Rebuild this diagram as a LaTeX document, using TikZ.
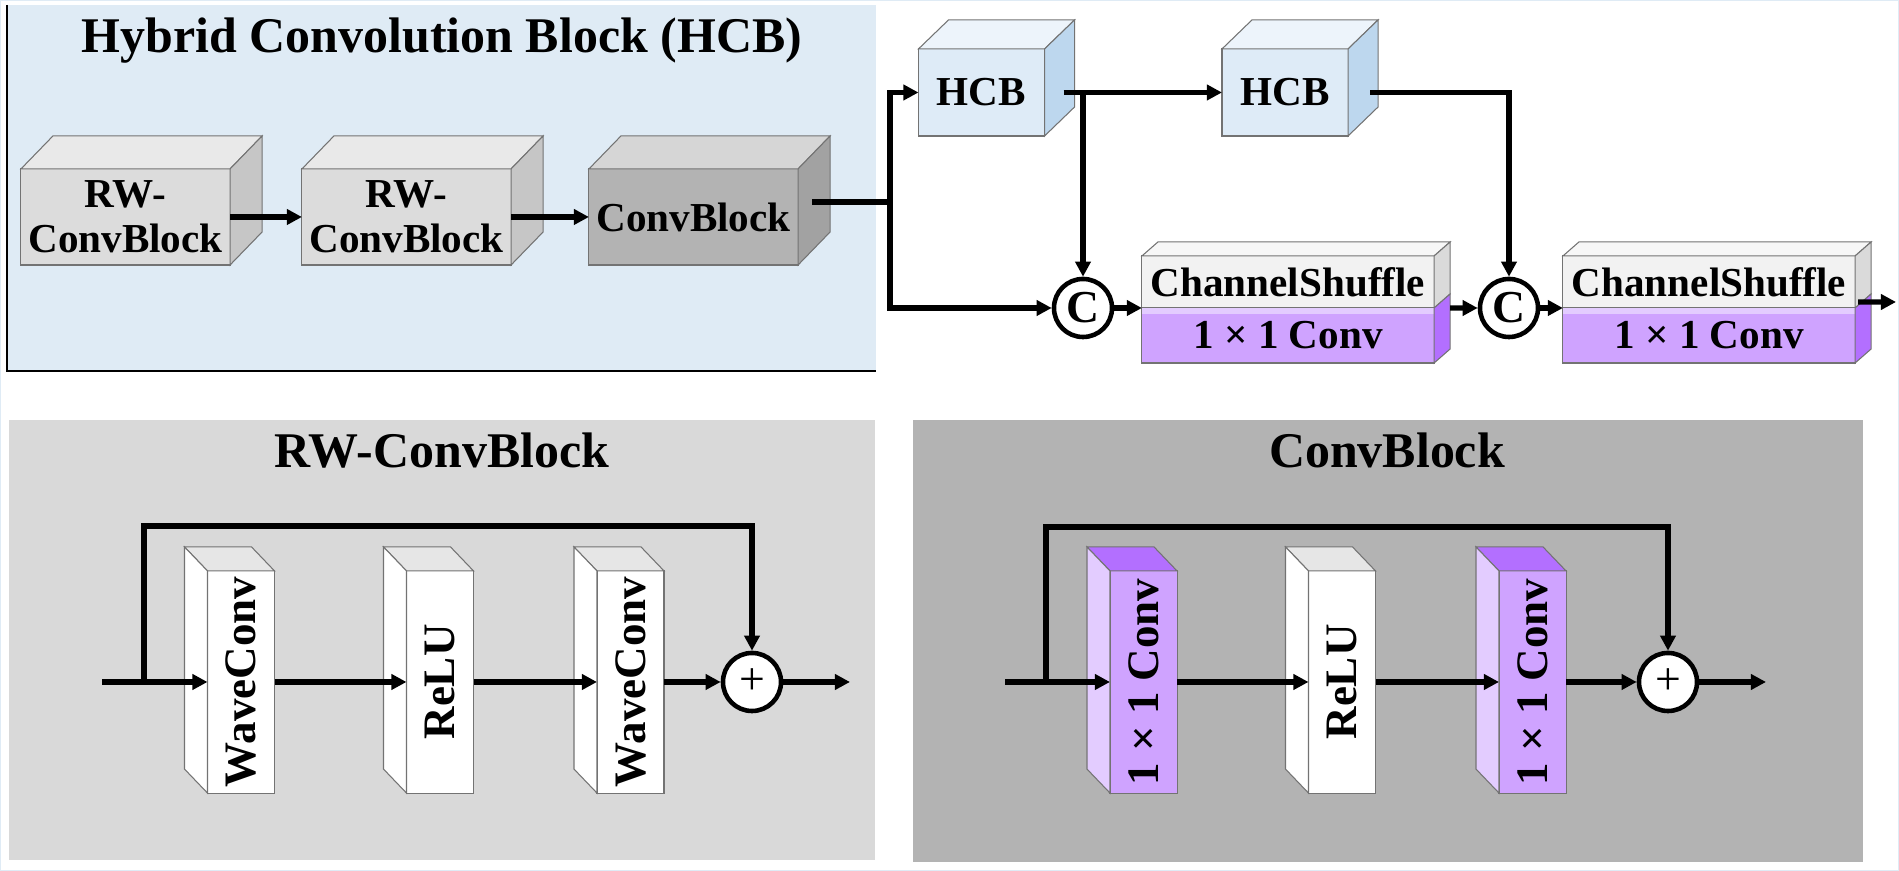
\documentclass[tikz,border=0pt]{standalone}
\usepackage{graphicx}
\usepackage{fontspec}
\setmainfont{Liberation Serif}
\usetikzlibrary{arrows.meta,positioning,calc}
\definecolor{hcbpanel}{HTML}{DFEBF5}
\definecolor{rwpanel}{HTML}{D9D9D9}
\definecolor{cbpanel}{HTML}{B3B3B3}
\definecolor{grayfront}{HTML}{DCDCDC}
\definecolor{graytop}{HTML}{E9E9E9}
\definecolor{grayside}{HTML}{C6C6C6}
\definecolor{darkfront}{HTML}{B3B3B3}
\definecolor{darktop}{HTML}{D6D6D6}
\definecolor{darkside}{HTML}{A2A2A2}
\definecolor{bluefront}{HTML}{DEEBF7}
\definecolor{bluetop}{HTML}{EDF4FB}
\definecolor{blueside}{HTML}{BDD7EE}
\definecolor{shuffront}{HTML}{F2F2F2}
\definecolor{shuftop}{HTML}{F7F7F7}
\definecolor{shufside}{HTML}{DADADA}
\definecolor{convfront}{HTML}{CFA3FF}
\definecolor{convlight}{HTML}{E3CCFF}
\definecolor{convdark}{HTML}{B36FFF}
\definecolor{bartop}{HTML}{E6E6E6}

\begin{document}
\begin{tikzpicture}[x=0.01cm, y=-0.01cm,
  face/.style={draw=black!55, line width=0.3pt},
  box/.style={face, inner sep=0pt, outer sep=0pt, align=center,
              font=\bfseries\fontsize{11.7}{12.8}\selectfont},
  cube/.style={box, minimum width=2.09cm, minimum height=0.96cm, fill=grayfront},
  hcb/.style={box, minimum width=1.26cm, minimum height=0.87cm, fill=bluefront},
  shuf/.style={box, minimum width=2.92cm, minimum height=0.52cm, fill=shuffront},
  conv/.style={box, minimum width=2.92cm, minimum height=0.55cm, fill=convfront},
  bar/.style={box, minimum width=0.67cm, minimum height=2.22cm, fill=white,
              font=\bfseries\fontsize{12.8}{13}\selectfont},
  ttl/.style={font=\bfseries\fontsize{14.2}{16}\selectfont, anchor=base, inner sep=0pt},
  cat/.style={circle, draw, line width=1.3pt, fill=white, minimum size=0.58cm, inner sep=0pt,
              font=\bfseries\fontsize{13}{13}\selectfont},
  sum/.style={cat, font=\fontsize{13}{13}\selectfont},
  ln/.style={line width=1.5pt},
  ar/.style={ln, -{Triangle[length=4.3pt, width=4.3pt]}},
]
\useasboundingbox (0,0) rectangle (1899,871);
\draw[hcbpanel, line width=0.6pt] (0,0) rectangle (1899,871);

% panels
\fill[hcbpanel] (7,5) rectangle (876,371);
\draw[line width=0.5pt] (7,5) -- (7,371) -- (876,371);
\fill[rwpanel] (9,420) rectangle (875,860);
\fill[cbpanel] (913,420) rectangle (1863,862);

\node[ttl] (hcbtitle) at (442,53) {Hybrid Convolution Block (HCB)};
\node[ttl] (rwtitle) at (442,468) {RW-ConvBlock};
\node[ttl] (cbtitle) at (1387,468) {ConvBlock};

% top row
\node[cube] (rw1) at (125.5,217) {RW-\\ConvBlock};
\node[cube] (rw2) at (406.5,217) {RW-\\ConvBlock};
\node[cube, fill=darkfront] (cb) at (693.5,217) {ConvBlock};
\node[hcb] (hcb1) at (981.5,92.5) {HCB};
\node[hcb] (hcb2) at (1285,92.5) {HCB};
\node[shuf] (cs1) at (1288,282) {ChannelShuffle};
\node[conv] (cv1) at (1288,335.5) {1 × 1 Conv};
\node[shuf] (cs2) at (1709,282) {ChannelShuffle};
\node[conv] (cv2) at (1709,335.5) {1 × 1 Conv};
\node[cat] (c1) at (1083,308) {C};
\node[cat] (c2) at (1509,308) {C};

\foreach \n/\dx/\dy/\tc/\sc in {rw1/32/33/graytop/grayside, rw2/32/33/graytop/grayside,
    cb/32/33/darktop/darkside, hcb1/30/29/bluetop/blueside, hcb2/30/29/bluetop/blueside,
    cs1/16/14/shuftop/shufside, cs2/16/14/shuftop/shufside}{
  \filldraw[face, fill=\tc] (\n.north west) -- ++(\dx,-\dy) -- ($(\n.north east)+(\dx,-\dy)$)
    -- (\n.north east) -- cycle;
  \filldraw[face, fill=\sc] (\n.north east) -- ++(\dx,-\dy) -- ($(\n.south east)+(\dx,-\dy)$)
    -- (\n.south east) -- cycle;
}
\foreach \n in {cv1,cv2}{
  \fill[convlight] (\n.north west) rectangle ($(\n.north east)+(0,6)$);
  \filldraw[face, fill=convdark] (\n.north east) -- ++(16,-14) -- ($(\n.south east)+(16,-14)$)
    -- (\n.south east) -- cycle;
}

% bottom row
\node[bar] (wc1) at (241,682) {\rotatebox{90}{WaveConv}};
\node[bar] (relu1) at (440,682) {\rotatebox{90}{ReLU}};
\node[bar] (wc2) at (630.5,682) {\rotatebox{90}{WaveConv}};
\node[bar, fill=convfront] (cva) at (1143.5,682) {\rotatebox{90}{1 × 1 Conv}};
\node[bar] (relu2) at (1342,682) {\rotatebox{90}{ReLU}};
\node[bar, fill=convfront] (cvb) at (1532.5,682) {\rotatebox{90}{1 × 1 Conv}};
\node[sum] (p1) at (752,682) {+};
\node[sum] (p2) at (1668,682) {+};

\foreach \n/\tc/\sc in {wc1/bartop/white, relu1/bartop/white, wc2/bartop/white,
    cva/convdark/convlight, relu2/bartop/white, cvb/convdark/convlight}{
  \filldraw[face, fill=\tc] (\n.north west) -- ++(-23,-24) -- ($(\n.north east)+(-23,-24)$)
    -- (\n.north east) -- cycle;
  \filldraw[face, fill=\sc] (\n.north west) -- ++(-23,-24) -- ($(\n.south west)+(-23,-24)$)
    -- (\n.south west) -- cycle;
}

% connectors, top
\coordinate (cbout) at ($(cb.east)+(14,-15)$);
\coordinate (split) at (890,202);
\coordinate (h1out) at ($(hcb1.east)+(19,0)$);
\coordinate (h2out) at ($(hcb2.east)+(22,0)$);
\coordinate (cs1out) at ($(cs1.south east)+(16,0)$);
\coordinate (cs2out) at ($(cs2.south east)+(3,-6)$);
\coordinate (fin) at (1896,302);
\draw[ar] (rw1.east) -- (rw2.west);
\draw[ar] (rw2.east) -- (cb.west);
\draw[ar] (cbout) -- (split) |- (hcb1.west);
\draw[ar] (split) |- (c1.west);
\draw[ar] (h1out) -- (hcb2.west);
\draw[ar] (c1.north |- hcb1.east) -- (c1.north);
\draw[ar] (h2out) -| (c2.north);
\draw[ar] (c1.east) -- (c1.east -| cs1.west);
\draw[ar] (cs1out) -- (c2.west);
\draw[ar] (c2.east) -- (c2.east -| cs2.west);
\draw[ar] (cs2out) -- (fin);

% connectors, bottom
\coordinate (rwin) at (102,682);
\coordinate (rwskip) at (144,682);
\coordinate (rwout) at (850,682);
\draw[ar] (rwin) -- (wc1.west);
\draw[ar] (rwskip) -- ++(0,-156) -| (p1.north);
\draw[ar] (wc1.east) -- (relu1.west);
\draw[ar] (relu1.east) -- (wc2.west);
\draw[ar] (wc2.east) -- (p1.west);
\draw[ar] (p1.east) -- (rwout);

\coordinate (cvin) at (1005,682);
\coordinate (cvskip) at (1046,682);
\coordinate (cvout) at (1766,682);
\draw[ar] (cvin) -- (cva.west);
\draw[ar] (cvskip) -- ++(0,-155) -| (p2.north);
\draw[ar] (cva.east) -- (relu2.west);
\draw[ar] (relu2.east) -- (cvb.west);
\draw[ar] (cvb.east) -- (p2.west);
\draw[ar] (p2.east) -- (cvout);
\end{tikzpicture}
\end{document}
